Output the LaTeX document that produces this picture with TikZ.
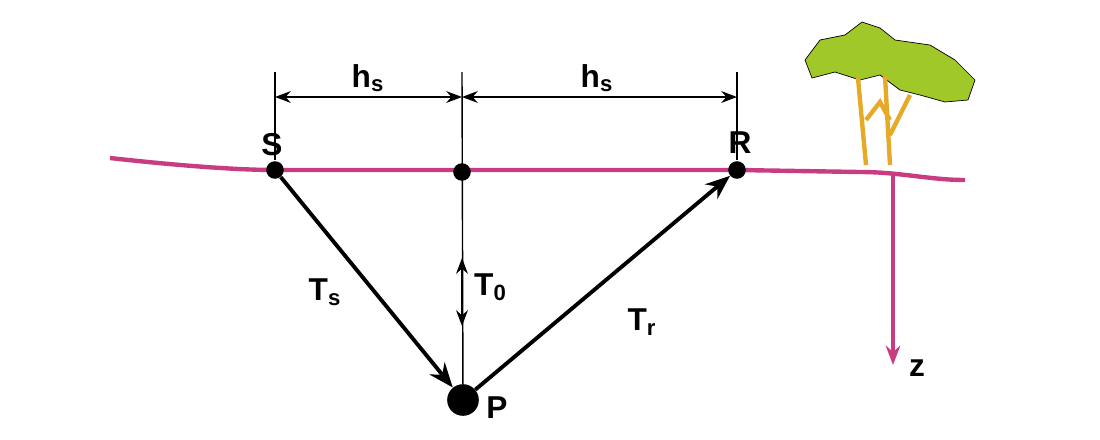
\documentclass[tikz,border=0pt]{standalone}
\usepackage{fontspec}
\setmainfont{Liberation Sans}
\usetikzlibrary{arrows.meta}
\definecolor{ground}{RGB}{200,60,130}
\definecolor{leaf}{RGB}{160,200,40}
\definecolor{trunk}{RGB}{230,170,40}
\tikzset{
    ray/.style={line width=2.2pt, -{Stealth[length=14pt,width=11pt]}},
    dim/.style={thick, {Stealth[length=9pt]}-{Stealth[length=9pt]}},
    tick/.style={thick},
    dot/.style={circle, fill=black, inner sep=0pt, minimum size=10pt},
    lbl/.style={font=\fontsize{18}{21}\selectfont\bfseries}
}
\begin{document}
\begin{tikzpicture}[x=0.02cm, y=-0.02cm]
    \useasboundingbox (0,0) rectangle (1100,440);
    % tree
    \draw[black, fill=leaf] (805,60) -- (820,40) -- (845,35) -- (862,22) -- (880,28) -- (895,40) -- (930,45) -- (955,60) -- (975,80) -- (968,100) -- (945,102) -- (920,95) -- (900,90) -- (880,75) -- (860,80) -- (835,72) -- (812,78) -- cycle;
    \draw[trunk, line width=2.5pt] (858,78) -- (866,165) (885,76) -- (890,165) (866,120) -- (880,102) -- (890,120) (910,95) -- (890,135);
    % ground and depth axis
    \draw[ground, line width=2.5pt] (110,158) .. controls (200,168) and (250,170) .. (275,170) -- (737,170) -- (860,172) .. controls (900,172) and (930,180) .. (965,180);
    \coordinate (z0) at (893,174);
    \coordinate (z1) at (893,365);
    \draw[ground, line width=2pt, -{Stealth[length=11pt]}] (z0) -- (z1);
    \node[lbl, anchor=west] (zl) at (903,368) {z};
    % points
    \node[dot] (S) at (275,170) {};
    \node[dot] (M) at (462,172) {};
    \node[dot] (R) at (737,170) {};
    \node[dot, minimum size=18pt] (P) at (463,400) {};
    \node[lbl] (Sl) at (272,145) {S};
    \node[lbl] (Rl) at (740,143) {R};
    \node[lbl] (Pl) at (497,408) {P};
    % dimension lines
    \coordinate (s1) at (275,72); \coordinate (s2) at (275,160);
    \coordinate (m1) at (462,72);
    \coordinate (r1) at (737,72); \coordinate (r2) at (737,160);
    \draw[tick] (s1) -- (s2);
    \draw[tick] (r1) -- (r2);
    \draw[tick] (m1) -- (P);
    \coordinate (ds) at (275,97); \coordinate (dm) at (462,97); \coordinate (dr) at (737,97);
    \draw[dim] (ds) -- (dm);
    \draw[dim] (dm) -- (dr);
    \node[lbl] (h1) at (368,78) {h\textsubscript{s}};
    \node[lbl] (h2) at (597,78) {h\textsubscript{s}};
    % T0 arrows
    \coordinate (t0) at (462,292); \coordinate (tu) at (462,258); \coordinate (td) at (462,326);
    \draw[thick, -{Stealth[length=9pt]}] (t0) -- (tu);
    \draw[thick, -{Stealth[length=9pt]}] (t0) -- (td);
    \node[lbl, anchor=west] (T0) at (468,287) {T\textsubscript{0}};
    % rays
    \draw[ray] (S) -- (P);
    \draw[ray] (P) -- (R);
    \node[lbl] (Ts) at (325,292) {T\textsubscript{s}};
    \node[lbl] (Tr) at (642,322) {T\textsubscript{r}};
\end{tikzpicture}
\end{document}
